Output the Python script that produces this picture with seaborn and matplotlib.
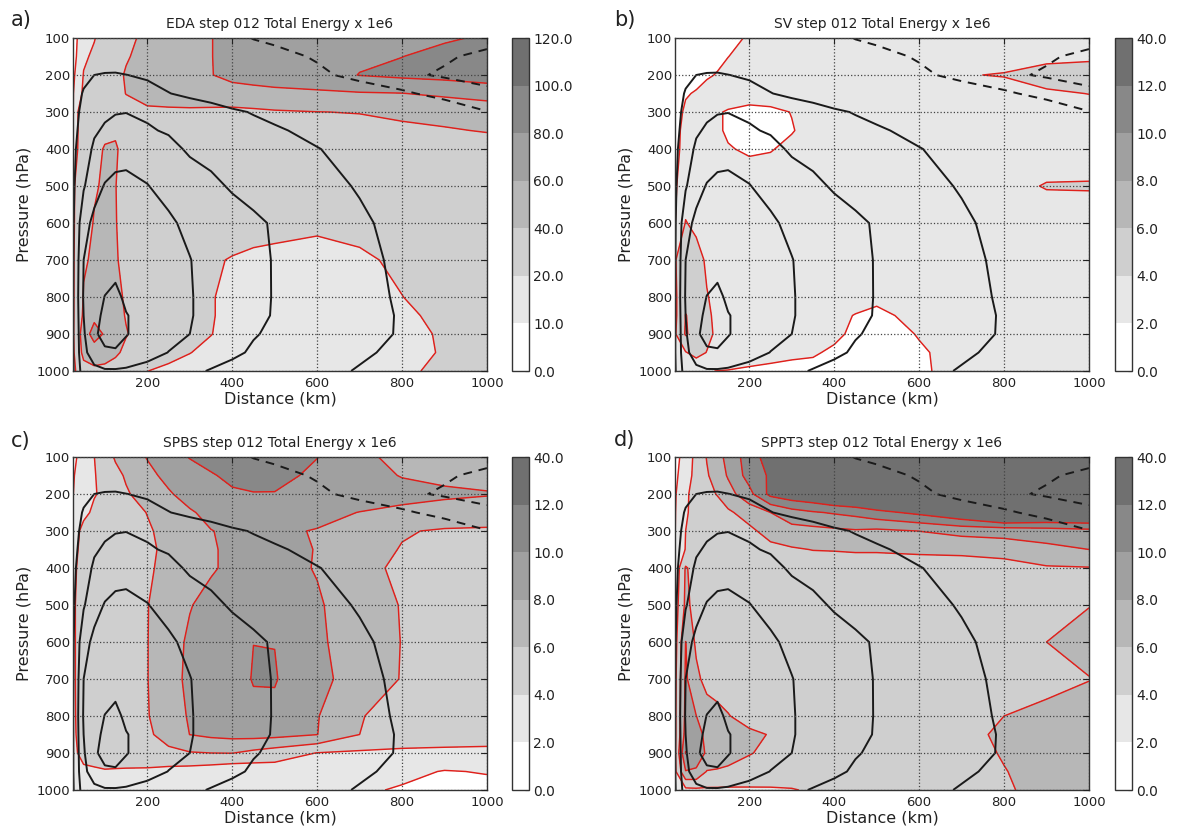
import numpy as np
import matplotlib
matplotlib.use("Agg")
import matplotlib.pyplot as plt
import seaborn as sns

# ---------------- data ----------------
dist_km = [25, 50, 75, 100, 125, 150, 200, 250, 300, 350, 400, 450, 500, 600, 700, 800, 900, 1000]
pressure_hpa = [100, 150, 200, 250, 300, 350, 400, 500, 600, 700, 800, 850, 900, 950, 1000]

# tangential wind (black contours, identical in all panels)
wind = [
    [0, 1.5, 2, 2.5, 2.5, 2, 1, 0, -1, -2, -3.5, -5.2, -6, -7, -7.5, -8, -8.5, -8.5],
    [2, 4.5, 5.5, 6, 6, 5.5, 4.5, 3, 1.5, 0, -1.5, -2.5, -3.5, -5.5, -7, -8.5, -9.5, -11],
    [4, 8, 10, 10.5, 10.6, 10.1, 9, 7.5, 6, 4.5, 3, 1.5, 0, -4, -6.5, -9.2, -10.5, -11.5],
    [6, 10.7, 12.5, 13.5, 14, 13.8, 12.5, 10.2, 8.5, 7, 5.5, 4, 2.5, 0, -2, -4, -7, -9],
    [8, 11.5, 15, 18, 19.5, 19.8, 18.5, 16.5, 14.5, 13, 11, 9.6, 8.5, 6.5, 4.5, 2, -1, -4.8],
    [8.2, 12.5, 18.5, 21.5, 23, 23.5, 21, 19, 16.5, 15, 13.5, 12, 10.7, 8.5, 6.5, 4, 1.5, -1],
    [8.5, 14, 22, 25, 27.5, 28, 27, 23, 18.5, 17, 15.5, 14, 13, 10.2, 8, 6, 4, 2.5],
    [8.5, 19, 27, 30.5, 31.5, 31.5, 30.2, 28, 25.5, 22, 19, 16.5, 15, 12, 9.5, 7, 5, 3.5],
    [8.8, 27, 32, 33.5, 34, 33.5, 32, 31, 28.5, 26, 24, 21.8, 19, 14.5, 11, 8, 5.5, 4],
    [9.2, 30, 33.5, 35.5, 36, 35, 33, 31.5, 30.2, 27.5, 25, 22.3, 19.5, 15.5, 12, 8.5, 6, 4.5],
    [9.5, 31, 36, 40.2, 42.5, 38, 35, 32.5, 30.5, 27.5, 25, 22.5, 19.5, 16, 12.5, 9, 6.5, 5],
    [9.5, 30, 37, 42, 43, 40.5, 36, 33, 30.5, 27.5, 25, 22.5, 19.3, 16.5, 13, 9.3, 7, 5.5],
    [9.5, 29, 38, 44, 45, 40.5, 36, 33, 30, 27, 24.5, 20.5, 18.8, 16.5, 13, 9.2, 7, 5.5],
    [9.5, 28, 34, 38, 38.5, 37, 34, 29.8, 26, 23.5, 21.5, 19, 17.5, 15, 11, 8.5, 7, 5.5],
    [9, 25, 28, 29, 29, 28.5, 26, 23.5, 21.5, 19.5, 17.5, 16, 14.5, 12, 9.5, 8, 6, 5],
]
wind_levels = [-10, -5, 10, 20, 30, 40]

energy_eda = [
    [5, 17.5, 19.5, 24, 30, 35, 45, 52, 57, 59.5, 66, 70, 72, 74, 76, 77, 78, 82],
    [6, 18.5, 21.6, 26, 32, 39, 44, 50, 55, 59.5, 66, 70, 73, 75, 77, 79.8, 85, 90],
    [8, 20.5, 26, 32, 37, 41, 46, 51, 55, 59.5, 64, 66, 68, 72, 80.5, 84, 86, 88],
    [9.5, 22, 28, 33, 37, 40.2, 44, 47, 50, 52, 54, 55, 56, 57, 58.5, 59.5, 64, 70],
    [9.5, 32, 34, 35, 36, 36.5, 38, 37.5, 37, 36, 35, 36.5, 38.2, 39.8, 40.5, 42, 43, 45],
    [10.0, 31, 35, 37, 37.5, 35, 35, 34, 33, 32.5, 32, 32.5, 33, 34, 35.5, 38, 39.25, 40.5],
    [12, 30, 36, 41, 42, 33.7, 33, 32, 31.5, 31, 30.5, 30, 30, 30, 30.5, 34, 35.5, 36],
    [18, 31, 38.5, 42, 40.3, 35, 31, 29, 28, 27, 26.5, 26, 26, 26, 26, 27, 28, 29],
    [18, 33, 41, 43, 40.5, 36, 30, 28, 26.5, 25, 24, 23, 22.5, 22, 22.5, 24, 25, 26],
    [18, 38.5, 42, 44, 41, 37, 30, 27, 25, 21, 19.5, 18.5, 18, 16.3, 18.7, 21.5, 24, 25],
    [18, 41, 44, 46, 44, 38, 30, 26, 23, 20.5, 18, 17, 16.5, 15.5, 16, 19.9, 23, 24.5],
    [18, 43, 55, 52, 46, 39, 31, 26, 23, 20.5, 18, 16.5, 16, 15, 15.5, 18.5, 22, 24],
    [18, 50, 68, 58, 50, 41, 32, 26, 23, 20.2, 17.5, 16, 15, 14, 14.5, 17.5, 21, 23],
    [17, 45.75, 50, 48, 43, 36, 28, 23, 20.2, 18, 16.5, 15, 14, 13.5, 14, 17, 20.8, 22],
    [16, 32, 36, 35, 32, 28, 20.1, 18, 17, 16, 15, 14.5, 14, 13.5, 14, 18.8, 21.5, 22],
]

energy_sv = [
    [0.5, 0.8, 1, 1.2, 1.4, 1.5, 2.2, 2.6, 2.8, 2.9, 3, 3, 3, 3, 3, 3.1, 3.2, 3.4],
    [0.6, 0.9, 1.2, 1.5, 1.8, 1.98, 2.5, 2.8, 3, 3, 3, 3, 3, 3, 3.1, 3.3, 3.2, 3.4],
    [0.8, 1.2, 1.6, 1.9, 2.05, 2.4, 2.8, 3, 3, 3, 3, 3, 3, 3.2, 3.9, 4.1, 5.2, 5.6],
    [1.5, 1.9, 2.1, 2.3, 2.5, 2.6, 2.8, 3, 3, 3, 3, 3, 3, 3, 3, 3.2, 3.6, 4.05],
    [1.5, 2.2, 2.4, 2.5, 2.1, 1.9, 1.5, 1.6, 2.05, 2.5, 2.8, 3, 3, 3, 3, 3, 2.8, 2.9],
    [1.6, 2.4, 2.6, 2.6, 2.2, 1.8, 1.4, 1.5, 1.9, 2.6, 2.9, 3, 3, 3, 3, 3, 2.9, 3.0],
    [1.6, 2.5, 2.6, 2.6, 2.5, 2.1, 1.8, 1.9, 2.4, 2.8, 3, 3, 3, 3, 3, 3, 3.1, 3.0],
    [1.8, 3, 3, 3, 3, 3, 2.8, 3, 3, 3, 3, 3, 3, 3, 3.2, 3.5, 4.1, 4.15],
    [1.95, 4.1, 3.5, 3, 3, 3, 3, 3, 3, 3, 3, 3, 3, 3, 3, 3.2, 3.1, 3.0],
    [3.9, 5, 4.8, 3.7, 3.2, 3, 3, 3, 3, 3, 3, 3, 3, 3, 3, 3.1, 3, 3],
    [3.7, 5.5, 5, 4.1, 3.5, 3.1, 3, 2.9, 2.8, 2.7, 2.6, 2.5, 2.3, 2.6, 2.9, 3, 3, 3],
    [3.6, 6.05, 5.5, 4.3, 3.6, 3.2, 3, 2.8, 2.6, 2.5, 2.3, 1.95, 1.7, 2.4, 2.8, 3, 3, 3],
    [3.8, 6.2, 5.2, 4.4, 3.7, 3.2, 3, 2.8, 2.6, 2.5, 2.4, 1.6, 1.2, 2.1, 2.8, 3, 3, 3],
    [3.5, 3.9, 4.6, 3.95, 3.4, 3.0, 2.7, 2.5, 2.3, 2.2, 1.7, 1.3, 1.1, 1.8, 2.6, 2.9, 3, 3],
    [3.2, 3.0, 2.6, 2.05, 1.98, 1.94, 1.78, 1.65, 1.55, 1.45, 1.3, 1.1, 1.0, 1.7, 2.7, 2.9, 3, 3],
]

energy_spbs = [
    [1.5, 2.9, 3.98, 5.1, 6.2, 6.9, 8.1, 9.0, 10.1, 10.8, 11.3, 11.5, 11.3, 10.05, 8.4, 7.5, 7.2, 7],
    [1.8, 3.3, 3.9, 4.6, 5.5, 6.2, 7.5, 8.5, 9.1, 9.8, 10.5, 10.8, 10.7, 9.5, 8.8, 7.9, 7.6, 7.5],
    [1.95, 3.5, 3.9, 4.3, 5, 5.8, 6.8, 7.8, 8.7, 9.3, 9.7, 9.9, 9.9, 9.6, 9.2, 8.7, 8.3, 8.1],
    [2.5, 3.6, 4.3, 4.7, 5, 5.3, 6.05, 6.8, 7.8, 8.5, 8.8, 9, 9, 8.6, 7.95, 7.5, 7.3, 7.2],
    [3.2, 4.5, 4.8, 5, 5.1, 5.3, 5.8, 6.5, 7.3, 7.95, 8.3, 8.4, 8.3, 7.9, 6.9, 6.15, 5.8, 5.7],
    [3.5, 4.55, 4.85, 5, 5.1, 5.3, 5.75, 6.3, 7.1, 7.85, 8.3, 8.5, 8.45, 7.95, 6.8, 5.9, 5.4, 5.3],
    [3.7, 4.6, 4.9, 5, 5.1, 5.3, 5.8, 6.4, 7.1, 7.8, 8.4, 8.6, 8.6, 7.9, 6.6, 5.6, 5.1, 5.0],
    [3.8, 4.7, 5, 5.1, 5.2, 5.4, 5.95, 6.8, 7.9, 8.6, 9.1, 9.4, 9.3, 8.2, 7.0, 5.9, 5.2, 5.0],
    [3.8, 4.7, 5, 5.1, 5.2, 5.4, 5.95, 7.2, 8.3, 8.9, 9.4, 9.99, 9.97, 8.3, 7.1, 5.95, 5.3, 5.1],
    [3.8, 4.7, 5, 5.1, 5.2, 5.4, 5.95, 7.3, 8.4, 9.0, 9.3, 10.1, 10.12, 8.5, 7.2, 5.9, 5.3, 5.1],
    [3.8, 4.6, 4.9, 5, 5.1, 5.3, 5.9, 7.0, 8.2, 8.8, 9.2, 9.6, 9.6, 8.1, 6.1, 5.3, 5.1, 5],
    [3.8, 4.5, 4.8, 4.9, 5.0, 5.2, 5.7, 6.7, 8.02, 8.4, 8.6, 8.7, 8.6, 8.03, 6.0, 5.2, 5.0, 4.9],
    [3.7, 4.4, 4.6, 4.7, 4.8, 4.9, 5.2, 5.6, 5.87, 6.0, 6.05, 5.5, 5.0, 3.95, 3.7, 3.6, 3.55, 3.5],
    [3.6, 3.75, 3.8, 3.9, 3.85, 3.8, 3.7, 3.4, 3.2, 2.9, 2.5, 2.7, 3.0, 3.2, 3.1, 2.5, 1.9, 2.1],
    [3.4, 3.5, 3.5, 3.4, 3.3, 3.2, 3.0, 2.9, 2.8, 2.7, 2.6, 2.5, 2.5, 2.4, 2.3, 1.8, 1.6, 1.5],
]

energy_sppt3 = [
    [1.2, 3.0, 4.5, 6.1, 7.3, 8.6, 11, 13, 15, 16, 17, 17.5, 18, 18, 18, 18, 18, 18],
    [1.5, 3.3, 4.5, 5.8, 6.9, 8.2, 10.8, 12.3, 14, 15, 16, 16.5, 17, 17, 17, 17, 17, 17.5],
    [1.8, 3.7, 4.7, 5.5, 6.1, 7.2, 9.4, 12.6, 13.5, 14, 15, 15.5, 16, 16.5, 17, 17, 17, 17.5],
    [1.9, 3.9, 4.3, 4.8, 5.2, 5.7, 6.8, 8.0, 9.2, 9.8, 10.2, 10.6, 11.4, 12.5, 14, 16.5, 15.5, 15.5],
    [1.95, 4.0, 4.3, 4.6, 4.9, 5.2, 5.6, 6.7, 7.3, 7.4, 7.6, 7.8, 7.6, 8.02, 8.6, 8.6, 9.0, 9.4],
    [2.05, 4.1, 4.5, 4.7, 4.9, 5.0, 5.3, 5.5, 5.8, 6.05, 6.1, 6.2, 6.2, 6.3, 6.5, 7.1, 7.5, 8.0],
    [2.5, 6.2, 5.2, 4.9, 4.8, 4.8, 4.9, 5.0, 5.0, 5.0, 5.0, 5.0, 5.0, 5.2, 5.0, 4.9, 5.8, 5.9],
    [3.0, 6.4, 5.4, 5.0, 4.9, 4.8, 4.8, 4.8, 4.8, 4.8, 4.8, 4.8, 4.8, 4.9, 5.1, 5.3, 5.6, 5.95],
    [3.2, 8.02, 5.6, 5.1, 4.9, 4.8, 4.8, 4.8, 4.8, 4.8, 4.8, 4.8, 4.8, 4.9, 5.1, 5.5, 6.0, 6.6],
    [3.5, 8.3, 6.5, 5.3, 5.0, 4.9, 4.8, 4.8, 4.8, 4.8, 4.8, 4.8, 4.8, 4.9, 5.0, 5.2, 5.4, 5.95],
    [3.6, 8.5, 8.02, 7.0, 6.6, 6.1, 5.2, 5.0, 4.9, 4.8, 4.8, 4.8, 4.8, 4.9, 5.4, 6.0, 6.5, 6.8],
    [3.6, 8.8, 8.6, 7.6, 7.0, 6.8, 6.4, 5.9, 5.4, 5.2, 5.1, 5.0, 5.0, 5.0, 5.5, 6.3, 6.6, 6.8],
    [3.7, 10.1, 8.8, 7.8, 7.2, 6.9, 6.1, 5.6, 5.3, 5.1, 5.0, 5.0, 5.0, 5.0, 5.5, 6.1, 6.6, 6.8],
    [3.6, 7.9, 7.8, 5.9, 5.8, 5.6, 5.3, 5.1, 5.0, 4.9, 4.9, 4.9, 4.9, 4.9, 5.3, 5.95, 6.5, 6.7],
    [3.2, 3.5, 3.6, 3.7, 3.7, 3.7, 3.75, 3.8, 3.9, 4.2, 4.5, 4.6, 4.7, 4.8, 5.2, 5.85, 6.4, 6.6],
]

levels_eda = [0, 10, 20, 40, 60, 80, 100, 120]
levels_other = [0, 2, 4, 6, 8, 10, 12, 40]
x_ticks = [200, 400, 600, 800, 1000]
y_ticks = [100, 200, 300, 400, 500, 600, 700, 800, 900, 1000]

panel_titles = ["EDA step 012 Total Energy x 1e6", "SV step 012 Total Energy x 1e6",
                "SPBS step 012 Total Energy x 1e6", "SPPT3 step 012 Total Energy x 1e6"]
panel_letters = ["a)", "b)", "c)", "d)"]

# ---------------- style ----------------
sns.set_theme(style="white")
plt.rcParams["font.family"] = ["DejaVu Sans"]
plt.rcParams["axes.edgecolor"] = "#333333"
plt.rcParams["axes.linewidth"] = 1.0
plt.rcParams["text.color"] = "#222222"
plt.rcParams["xtick.color"] = "#222222"
plt.rcParams["ytick.color"] = "#222222"
plt.rcParams["axes.labelcolor"] = "#222222"

fill_colors = sns.blend_palette(["#ffffff", "#707070"], 7)
dash = (0, (4.5, 3.5))
wind_styles = [dash if v < 0 else "solid" for v in wind_levels]

W, H = 1178, 831
fig = plt.figure(figsize=(W / 100, H / 100), dpi=100)


def rect(l, t, w, h):
    return [l / W, 1 - (t + h) / H, w / W, h / H]


layout = [  # (axes left, top), (colorbar left), letter pos
    ((73, 38), 512, (11, 20)),
    ((675, 38), 1115, (614, 20)),
    ((73, 457), 512, (11, 441)),
    ((675, 457), 1115, (614, 440)),
]
fields = [energy_eda, energy_sv, energy_spbs, energy_sppt3]
level_sets = [levels_eda, levels_other, levels_other, levels_other]

Xg, Pg = np.meshgrid(np.array(dist_km, float), np.array(pressure_hpa, float))
Vg = np.array(wind, float)

for i in range(4):
    (l, t), cbl, (lx, ly) = layout[i]
    ax = fig.add_axes(rect(l, t, 414, 333))
    cax = fig.add_axes(rect(cbl, t, 17, 333))
    Z = np.array(fields[i], float)
    lev = level_sets[i]

    cf = ax.contourf(Xg, Pg, Z, levels=lev, colors=fill_colors)
    ax.contour(Xg, Pg, Z, levels=lev[1:-1], colors="#e0201b", linewidths=1.05)
    ax.contour(Xg, Pg, Vg, levels=wind_levels, colors="#1a1a1a", linewidths=1.4,
               linestyles=wind_styles)

    ax.set_xlim(25, 1000)
    ax.set_ylim(1000, 100)
    ax.set_xticks(x_ticks)
    ax.set_yticks(y_ticks)
    ax.grid(True, color="#444444", linestyle=":", linewidth=0.9)
    ax.set_axisbelow(False)
    ax.tick_params(axis="both", direction="in", length=4, width=0.8,
                   top=True, right=True, labelsize=9.5)
    ax.tick_params(axis="x", pad=4.5)
    ax.tick_params(axis="y", pad=2)
    ax.set_title(panel_titles[i], fontsize=10, pad=7)
    ax.set_xlabel("Distance (km)", fontsize=11.5, labelpad=1)
    ax.set_ylabel("Pressure (hPa)", fontsize=11.5, labelpad=4)
    for s in ax.spines.values():
        s.set_color("#333333")
        s.set_linewidth(1.0)

    cb = fig.colorbar(cf, cax=cax, ticks=lev, format="%.1f")
    cb.outline.set_edgecolor("#333333")
    cb.outline.set_linewidth(1.0)
    cax.tick_params(direction="in", length=3, width=0.8, labelsize=10, pad=3)

    fig.text(lx / W, 1 - ly / H, panel_letters[i], fontsize=15, ha="left", va="center")

fig.savefig("out.png", dpi=100)
